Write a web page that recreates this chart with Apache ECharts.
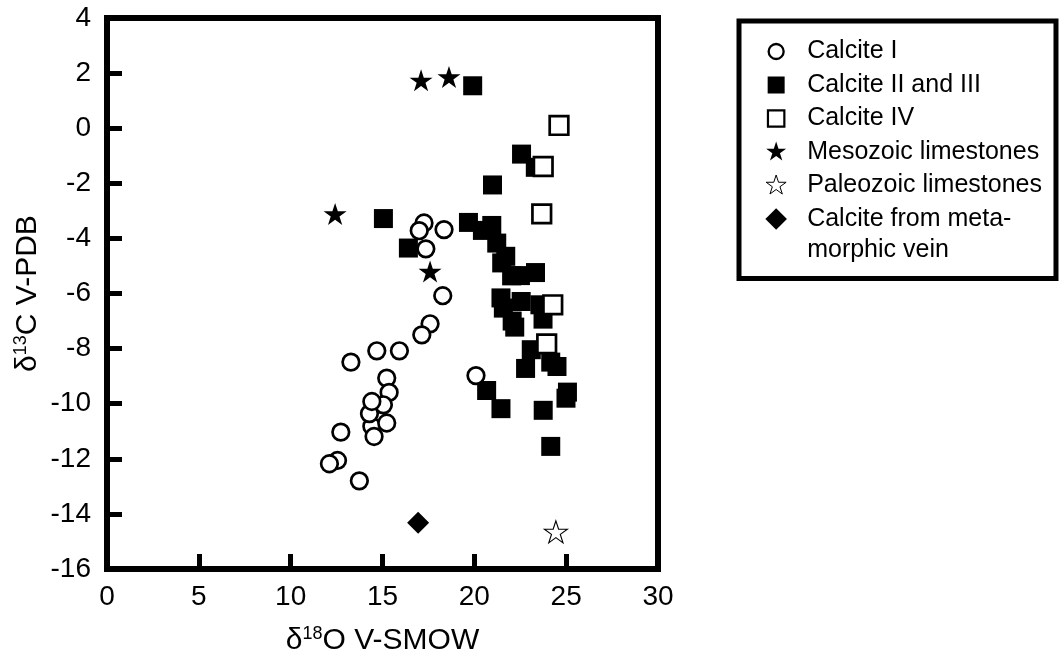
<!DOCTYPE html>
<html>
<head>
<meta charset="utf-8">
<script src="https://cdn.jsdelivr.net/npm/echarts@6/dist/echarts.min.js"></script>
<style>
  html, body { margin: 0; padding: 0; background: #fff; }
  #chart { width: 1061px; height: 670px; }
</style>
</head>
<body>
<div id="chart"></div>
<script>
// δ18O (V-SMOW) / δ13C (V-PDB) pairs for each group
const seriesNames = [
  'Calcite I',
  'Calcite II and III',
  'Calcite IV',
  'Mesozoic limestones',
  'Paleozoic limestones',
  'Calcite from meta-\nmorphic vein'
];

const calciteI = [
  [17.26, -3.44], [17.0, -3.72], [18.35, -3.68], [17.36, -4.38],
  [18.28, -6.08], [17.59, -7.1], [17.14, -7.5], [15.92, -8.08],
  [14.69, -8.08], [13.28, -8.49], [15.23, -9.07], [15.36, -9.59],
  [14.42, -10.82], [15.05, -10.04], [14.29, -10.36], [14.42, -9.92],
  [15.23, -10.7], [14.54, -11.19], [12.73, -11.03], [12.55, -12.06],
  [12.11, -12.18], [13.74, -12.8], [20.09, -8.98]
];

const calciteIIandIII = [
  [19.91, 1.54], [22.57, -0.94], [23.32, -1.42], [20.99, -2.06],
  [15.05, -3.28], [16.41, -4.35], [19.68, -3.42], [20.95, -3.53],
  [20.44, -3.71], [21.22, -4.17], [21.71, -4.65], [21.49, -4.89],
  [22.03, -5.36], [22.51, -5.35], [23.33, -5.24], [21.45, -6.16],
  [22.55, -6.29], [21.58, -6.53], [23.57, -6.41], [23.74, -6.93],
  [22.06, -7.0], [22.2, -7.22], [23.1, -8.04], [22.79, -8.72],
  [24.16, -8.49], [24.5, -8.65], [20.67, -9.52], [21.45, -10.18],
  [23.75, -10.24], [25.07, -9.58], [24.99, -9.8], [24.16, -11.55]
];

const calciteIV = [
  [24.61, 0.1], [23.75, -1.39], [23.67, -3.11], [24.27, -6.41], [23.94, -7.83]
];

const mesozoicLimestones = [
  [17.1, 1.74], [18.62, 1.86], [12.42, -3.11], [17.59, -5.2]
];

const paleozoicLimestones = [
  [24.44, -14.65]
];

const metamorphicVein = [
  [16.94, -14.32]
];

const xTicks = { min: 0, max: 30, interval: 5 };
const yTicks = { min: -16, max: 4, interval: 2 };

const FONT = '"Liberation Sans", Arial, Helvetica, sans-serif';

// five-pointed star outline, optionally padded with bare move-to points
function starPath(R, pad) {
  const pts = [];
  for (let i = 0; i < 10; i++) {
    const r = (i % 2 === 0) ? R : R * 0.382;
    const a = -Math.PI / 2 + i * Math.PI / 5;
    pts.push((r * Math.cos(a)).toFixed(3) + ',' + (r * Math.sin(a)).toFixed(3));
  }
  const pre = pad ? 'M' + (-pad) + ',' + (-pad) + 'M' + pad + ',' + pad : '';
  return 'path://' + pre + 'M' + pts.join('L') + 'Z';
}
// legend icons share a 22x22 box so their drawn sizes differ
function boxed(body) { return 'path://M-11,-11M11,11' + body; }
function squareBody(h) { return 'M' + (-h) + ',' + (-h) + 'H' + h + 'V' + h + 'H' + (-h) + 'Z'; }
function circleBody(r) { return 'M' + r + ',0A' + r + ',' + r + ',0,1,1,' + (-r) + ',0A' + r + ',' + r + ',0,1,1,' + r + ',0Z'; }

const STAR = starPath(1, 0);
const LEGEND_LINE = 31;

const titleRich = {
  b: { fontSize: 30, lineHeight: 32, fontFamily: FONT, color: '#000' },
  s: { fontSize: 18, lineHeight: 18, verticalAlign: 'top', fontFamily: FONT, color: '#000' }
};

const chart = echarts.init(document.getElementById('chart'), null, { renderer: 'canvas' });

chart.setOption({
  animation: false,
  backgroundColor: '#fff',
  textStyle: { fontFamily: FONT, color: '#000' },
  grid: {
    left: 107, top: 18, width: 551, height: 551,
    containLabel: false,
    outerBoundsMode: 'none',
    show: true,
    borderWidth: 6,
    borderColor: '#000',
    backgroundColor: 'transparent'
  },
  xAxis: {
    type: 'value',
    min: xTicks.min, max: xTicks.max, interval: xTicks.interval,
    axisLine: { show: false, onZero: false },
    axisTick: { show: true, inside: true, length: 15, lineStyle: { color: '#000', width: 5 } },
    splitLine: { show: false },
    axisLabel: { color: '#000', fontSize: 28, fontFamily: FONT, margin: 14 },
    name: '{b|δ}{s|18}{b|O V-SMOW}',
    nameLocation: 'middle',
    nameGap: 56,
    nameTextStyle: { fontFamily: FONT, color: '#000', rich: titleRich }
  },
  yAxis: {
    type: 'value',
    min: yTicks.min, max: yTicks.max, interval: yTicks.interval,
    axisLine: { show: false, onZero: false },
    axisTick: { show: true, inside: true, length: 15, lineStyle: { color: '#000', width: 5 } },
    splitLine: { show: false },
    axisLabel: { color: '#000', fontSize: 28, fontFamily: FONT, margin: 16 },
    name: '{b|δ}{s|13}{b|C V-PDB}',
    nameLocation: 'middle',
    nameMoveOverlap: false,
    nameGap: 63,
    nameTextStyle: { fontFamily: FONT, color: '#000', rich: titleRich }
  },
  legend: {
    orient: 'vertical',
    left: 739,
    top: 21,
    padding: [15, 14, 16, 25],
    itemGap: 2.5,
    itemWidth: 22,
    itemHeight: 22,
    borderColor: '#000',
    borderWidth: 5,
    selectedMode: false,
    // multi-line names become rich lines so the icon sits beside the first line
    formatter: function (name) {
      if (name.indexOf('\n') < 0) return name;
      return name.split('\n').map(function (s) { return '{t|' + s + '}'; }).join('\n');
    },
    textStyle: {
      fontFamily: FONT, fontSize: 25, color: '#000',
      lineHeight: LEGEND_LINE, padding: [0, 0, 0, 15]
    },
    data: [
      { name: seriesNames[0], icon: boxed(circleBody(7.5)), itemStyle: { borderWidth: 2.3 } },
      { name: seriesNames[1], icon: boxed(squareBody(8.5)) },
      { name: seriesNames[2], icon: boxed(squareBody(8.2)), itemStyle: { borderWidth: 2.2 } },
      { name: seriesNames[3], icon: starPath(10.5, 11) },
      { name: seriesNames[4], icon: starPath(10.5, 11), itemStyle: { borderWidth: 1 } },
      {
        name: seriesNames[5], icon: boxed('M0,-10.8L10.8,0L0,10.8L-10.8,0Z'),
        textStyle: {
          padding: [0, 0, -LEGEND_LINE, 15],
          rich: { t: { fontSize: 25, lineHeight: LEGEND_LINE, fontFamily: FONT, color: '#000' } }
        }
      }
    ]
  },
  series: [
    {
      name: seriesNames[1], type: 'scatter', z: 2,
      data: calciteIIandIII, symbol: 'rect', symbolSize: 19,
      itemStyle: { color: '#000', opacity: 1 }
    },
    {
      name: seriesNames[0], type: 'scatter', z: 3,
      data: calciteI, symbol: 'circle', symbolSize: 16.6,
      itemStyle: { color: '#fff', borderColor: '#000', borderWidth: 2.7, opacity: 1 }
    },
    {
      name: seriesNames[2], type: 'scatter', z: 4,
      data: calciteIV, symbol: 'rect', symbolSize: 18.6,
      itemStyle: { color: '#fff', borderColor: '#000', borderWidth: 2.7, opacity: 1 }
    },
    {
      name: seriesNames[3], type: 'scatter', z: 4,
      data: mesozoicLimestones, symbol: STAR, symbolSize: [23, 22],
      itemStyle: { color: '#000', opacity: 1 }
    },
    {
      name: seriesNames[4], type: 'scatter', z: 4,
      data: paleozoicLimestones, symbol: STAR, symbolSize: [23, 22],
      itemStyle: { color: '#fff', borderColor: '#000', borderWidth: 1.1, opacity: 1 }
    },
    {
      name: seriesNames[5], type: 'scatter', z: 4,
      data: metamorphicVein, symbol: 'diamond', symbolSize: [22, 22],
      itemStyle: { color: '#000', opacity: 1 }
    }
  ]
});
</script>
</body>
</html>
